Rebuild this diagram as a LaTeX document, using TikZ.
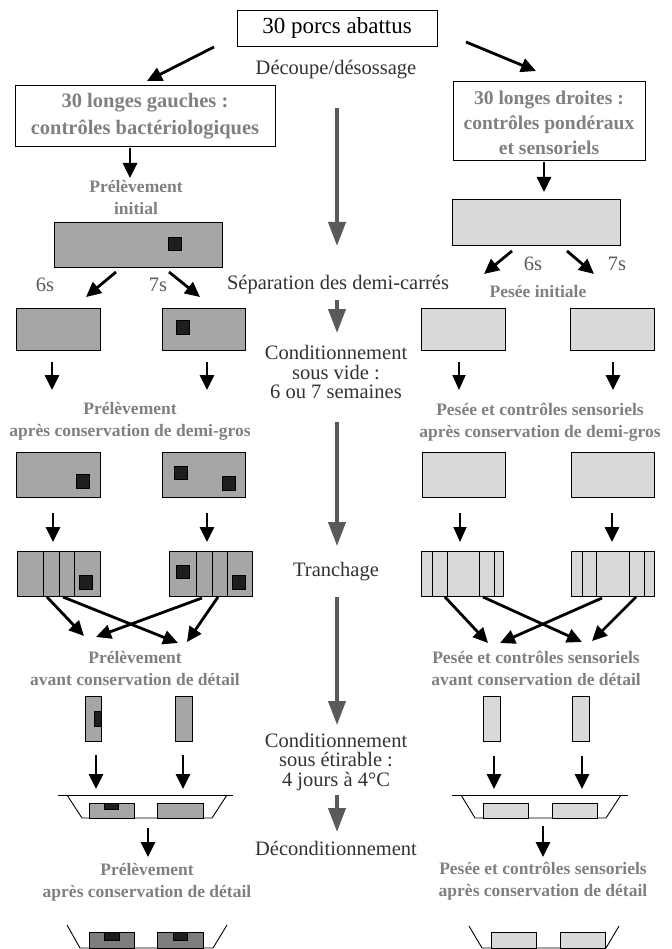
\documentclass[tikz,border=0pt]{standalone}
\usepackage{fontspec}
\setmainfont{Liberation Serif}
\usetikzlibrary{arrows.meta}
\definecolor{lfill}{RGB}{166,166,166}
\definecolor{rfill}{RGB}{217,217,217}
\definecolor{dfill}{RGB}{125,125,125}
\definecolor{txtgray}{RGB}{128,128,128}
\definecolor{argray}{RGB}{90,90,90}
\definecolor{lbltxt}{RGB}{50,50,50}
\definecolor{sqc}{RGB}{30,30,30}
\begin{document}
\begin{tikzpicture}[x=1pt,y=-1pt,
  sz/.style 2 args={minimum width=#1pt,minimum height=#2pt},
  wbox/.style={draw=black,line width=0.8pt,inner sep=0pt,outer sep=0pt,fill=white},
  lr/.style={draw=black,line width=0.8pt,fill=lfill,inner sep=0pt,outer sep=0pt},
  rr/.style={draw=black,line width=0.8pt,fill=rfill,inner sep=0pt,outer sep=0pt},
  dr/.style={draw=black,line width=0.8pt,fill=dfill,inner sep=0pt,outer sep=0pt},
  sq/.style={fill=sqc,draw=black,line width=0.5pt,inner sep=0pt,outer sep=0pt},
  bk/.style={draw=black,line width=2.8pt,-{Triangle[length=15pt,width=14pt]}},
  bkt/.style={draw=black,line width=1.8pt,-{Triangle[length=15pt,width=13pt]}},
  ga/.style={draw=argray,line width=4pt,-{Triangle[length=24pt,width=17pt]}},
  glbl/.style={text=txtgray,font=\bfseries\fontsize{17.5}{22}\selectfont,align=center,inner sep=0pt},
  blbl/.style={text=txtgray,font=\bfseries\fontsize{20.5}{27}\selectfont,align=center,inner sep=0pt},
  clbl/.style={text=lbltxt,font=\fontsize{20.5}{19.5}\selectfont,align=center,inner sep=0pt},
  tray/.style={draw=black,line width=0.9pt},
  slice/.style={draw=black,line width=0.8pt},
]
\useasboundingbox[fill=white] (0,0) rectangle (671,949);

% ---------- top ----------
\node[wbox,sz={200}{36},font=\fontsize{23}{25}\selectfont] (top) at (337,28) {30 porcs abattus};
\node[clbl] (decoupe) at (336,70) {Découpe/désossage};
\coordinate (t1s) at (214,47); \coordinate (t1e) at (147,81);
\coordinate (t2s) at (466,42); \coordinate (t2e) at (536,71);
\draw[bk] (t1s) -- (t1e);
\draw[bk] (t2s) -- (t2e);

\node[wbox,sz={260}{61}] (lbox) at (145,115.5) {};
\node[blbl] (lboxt) at (145,116) {30 longes gauches :\\contrôles bactériologiques};
\node[wbox,sz={192}{79}] (rbox) at (549,120.5) {};
\node[blbl,font=\bfseries\fontsize{19.5}{25}\selectfont] (rboxt) at (549,123) {30 longes droites :\\contrôles pondéraux\\et sensoriels};

% ---------- central grey arrows ----------
\coordinate (g1s) at (337,108); \coordinate (g1e) at (337,246);
\coordinate (g2s) at (337,300); \coordinate (g2e) at (337,333);
\coordinate (g3s) at (337,422); \coordinate (g3e) at (337,546);
\coordinate (g4s) at (337,597); \coordinate (g4e) at (337,725);
\coordinate (g5s) at (337,795); \coordinate (g5e) at (337,832);
\draw[ga] (g1s) -- (g1e);
\draw[ga] (g2s) -- (g2e);
\draw[ga] (g3s) -- (g3e);
\draw[ga] (g4s) -- (g4e);
\draw[ga] (g5s) -- (g5e);

\node[clbl] (sep) at (338,285) {Séparation des demi-carrés};
\node[clbl] (condv) at (336,372) {Conditionnement\\sous vide :\\6 ou 7 semaines};
\node[clbl] (tranch) at (336,572) {Tranchage};
\node[clbl] (conde) at (336,762) {Conditionnement\\sous étirable :\\4 jours à 4°C};
\node[clbl] (decond) at (336,848) {Déconditionnement};

% ---------- left column ----------
\coordinate (l0s) at (130,148); \coordinate (l0e) at (130,178);
\draw[bk] (l0s) -- (l0e);
\node[glbl] (lpi) at (136,197.5) {Prélèvement\\initial};
\node[lr,sz={168}{45}] (lbig) at (138,244.5) {};
\node[sq,sz={13}{13}] (lbigsq) at (175,244) {};
\coordinate (ls1s) at (116,272); \coordinate (ls1e) at (86,297);
\coordinate (ls2s) at (169,272); \coordinate (ls2e) at (200,297);
\draw[bk] (ls1s) -- (ls1e);
\draw[bk] (ls2s) -- (ls2e);
\node[clbl,text=argray] (l6s) at (45,285) {6s};
\node[clbl,text=argray] (l7s) at (158,285) {7s};

\node[lr,sz={84}{42}] (la1) at (58,329) {};
\node[lr,sz={83}{42}] (la2) at (203.5,329) {};
\node[sq,sz={13}{14}] (la2sq) at (183,327) {};
\coordinate (lb1s) at (52,362); \coordinate (lb1e) at (52,390);
\coordinate (lb2s) at (207,362); \coordinate (lb2e) at (207,390);
\draw[bk] (lb1s) -- (lb1e);
\draw[bk] (lb2s) -- (lb2e);
\node[glbl] (lpa) at (130,421.5) {Prélèvement\\après conservation de demi-gros};

\node[lr,sz={84}{45}] (lc1) at (58,474.5) {};
\node[sq,sz={13}{14}] (lc1sq) at (83,481) {};
\node[lr,sz={83}{45}] (lc2) at (203.5,474.5) {};
\node[sq,sz={13}{13}] (lc2sqa) at (181,473) {};
\node[sq,sz={13}{14}] (lc2sqb) at (229,483) {};
\coordinate (ld1s) at (53,513); \coordinate (ld1e) at (53,542);
\coordinate (ld2s) at (207,513); \coordinate (ld2e) at (207,542);
\draw[bk] (ld1s) -- (ld1e);
\draw[bk] (ld2s) -- (ld2e);

\node[lr,sz={83}{45}] (le1) at (58.5,573.5) {};
\draw[slice] (43,551) -- (43,596) (59,551) -- (59,596) (74,551) -- (74,596);
\node[sq,sz={13}{14}] (le1sq) at (86,582) {};
\node[lr,sz={83}{45}] (le2) at (210.5,573.5) {};
\draw[slice] (196,551) -- (196,596) (212,551) -- (212,596) (227,551) -- (227,596);
\node[sq,sz={13}{13}] (le2sqa) at (183,572) {};
\node[sq,sz={13}{14}] (le2sqb) at (239,582) {};
\coordinate (lx1s) at (47,597); \coordinate (lx1e) at (84,636);
\coordinate (lx2s) at (63,597); \coordinate (lx2e) at (178,643);
\coordinate (lx3s) at (202,598); \coordinate (lx3e) at (96,637);
\coordinate (lx4s) at (218,597); \coordinate (lx4e) at (187,642);
\draw[bk] (lx1s) -- (lx1e);
\draw[bk] (lx2s) -- (lx2e);
\draw[bk] (lx3s) -- (lx3e);
\draw[bk] (lx4s) -- (lx4e);
\node[glbl] (lpav) at (135,668) {Prélèvement\\avant conservation de détail};

\node[lr,sz={16}{45}] (lf1) at (93,718.5) {};
\node[sq,fill=sqc,sz={7}{15}] (lf1sq) at (97.5,718.5) {};
\node[lr,sz={17}{45}] (lf2) at (183.5,718.5) {};
\coordinate (lg1s) at (96,755); \coordinate (lg1e) at (96,789);
\coordinate (lg2s) at (183,755); \coordinate (lg2e) at (183,789);
\draw[bk] (lg1s) -- (lg1e);
\draw[bk] (lg2s) -- (lg2e);

\draw[tray] (58,795) -- (233,795);
\draw[tray] (67,795) -- (82,818) -- (212,818) -- (227,795);
\node[lr,sz={45}{15}] (lh1) at (111.5,810.5) {};
\node[sq,sz={14}{6}] (lh1sq) at (111,806) {};
\node[lr,sz={46}{15}] (lh2) at (180,810.5) {};
\coordinate (li1s) at (148,828); \coordinate (li1e) at (148,857);
\draw[bk] (li1s) -- (li1e);
\node[glbl] (lpap) at (147,882.5) {Prélèvement\\après conservation de détail};

\draw[tray] (67,925) -- (80,948) -- (213,948) -- (227,925);
\node[dr,sz={45}{16}] (lj1) at (111.5,940) {};
\node[sq,sz={15}{8}] (lj1sq) at (112,936) {};
\node[dr,sz={46}{16}] (lj2) at (180,940) {};
\node[sq,sz={14}{8}] (lj2sq) at (180,936) {};

% ---------- right column ----------
\coordinate (r0s) at (544,162); \coordinate (r0e) at (544,192);
\draw[bk] (r0s) -- (r0e);
\node[rr,sz={168}{46}] (rbig) at (536,222) {};
\coordinate (rs1s) at (512,251); \coordinate (rs1e) at (484,274);
\coordinate (rs2s) at (567,251); \coordinate (rs2e) at (594,274);
\draw[bk] (rs1s) -- (rs1e);
\draw[bk] (rs2s) -- (rs2e);
\node[clbl,text=argray] (r6s) at (533,264) {6s};
\node[clbl,text=argray] (r7s) at (617,264) {7s};
\node[glbl] (rpi) at (538,292) {Pesée initiale};

\node[rr,sz={84}{42}] (ra1) at (463,329) {};
\node[rr,sz={84}{42}] (ra2) at (612,329) {};
\coordinate (rb1s) at (459,362); \coordinate (rb1e) at (459,390);
\coordinate (rb2s) at (613,362); \coordinate (rb2e) at (613,390);
\draw[bkt] (rb1s) -- (rb1e);
\draw[bk] (rb2s) -- (rb2e);
\node[glbl] (rpa) at (540,422) {Pesée et contrôles sensoriels\\après conservation de demi-gros};

\node[rr,sz={83}{45}] (rc1) at (463.5,475) {};
\node[rr,sz={83}{45}] (rc2) at (612.5,475) {};
\coordinate (rd1s) at (460,513); \coordinate (rd1e) at (460,542);
\coordinate (rd2s) at (612,513); \coordinate (rd2e) at (612,542);
\draw[bkt] (rd1s) -- (rd1e);
\draw[bk] (rd2s) -- (rd2e);

\node[rr,sz={82}{45}] (re1) at (462,573.5) {};
\draw[slice] (432,551) -- (432,596) (447,551) -- (447,596) (479,551) -- (479,596) (494,551) -- (494,596);
\node[rr,sz={83}{45}] (re2) at (612.5,573.5) {};
\draw[slice] (582,551) -- (582,596) (596,551) -- (596,596) (629,551) -- (629,596) (644,551) -- (644,596);
\coordinate (rx1s) at (445,597); \coordinate (rx1e) at (488,643);
\coordinate (rx2s) at (483,597); \coordinate (rx2e) at (582,642);
\coordinate (rx3s) at (602,598); \coordinate (rx3e) at (500,643);
\coordinate (rx4s) at (636,597); \coordinate (rx4e) at (592,641);
\draw[bk] (rx1s) -- (rx1e);
\draw[bk] (rx2s) -- (rx2e);
\draw[bk] (rx3s) -- (rx3e);
\draw[bk] (rx4s) -- (rx4e);
\node[glbl] (rpav) at (536,668) {Pesée et contrôles sensoriels\\avant conservation de détail};

\node[rr,sz={17}{45}] (rf1) at (491.5,718.5) {};
\node[rr,sz={17}{45}] (rf2) at (580.5,718.5) {};
\coordinate (rg1s) at (494,756); \coordinate (rg1e) at (494,789);
\coordinate (rg2s) at (582,756); \coordinate (rg2e) at (582,789);
\draw[bk] (rg1s) -- (rg1e);
\draw[bk] (rg2s) -- (rg2e);

\draw[tray] (452,795) -- (628,795);
\draw[tray] (461,795) -- (475,818) -- (606,818) -- (621,795);
\node[rr,sz={45}{15}] (rh1) at (505.5,810.5) {};
\node[rr,sz={45}{15}] (rh2) at (574.5,810.5) {};
\coordinate (ri1s) at (543,826); \coordinate (ri1e) at (543,857);
\draw[bk] (ri1s) -- (ri1e);
\node[glbl] (rpap) at (543,881.5) {Pesée et contrôles sensoriels\\après conservation de détail};

\draw[tray] (469,926) -- (482,948) -- (606,948) -- (619,926);
\node[rr,sz={45}{16}] (rj1) at (513.5,940) {};
\node[rr,sz={45}{16}] (rj2) at (582.5,940) {};
\end{tikzpicture}
\end{document}
